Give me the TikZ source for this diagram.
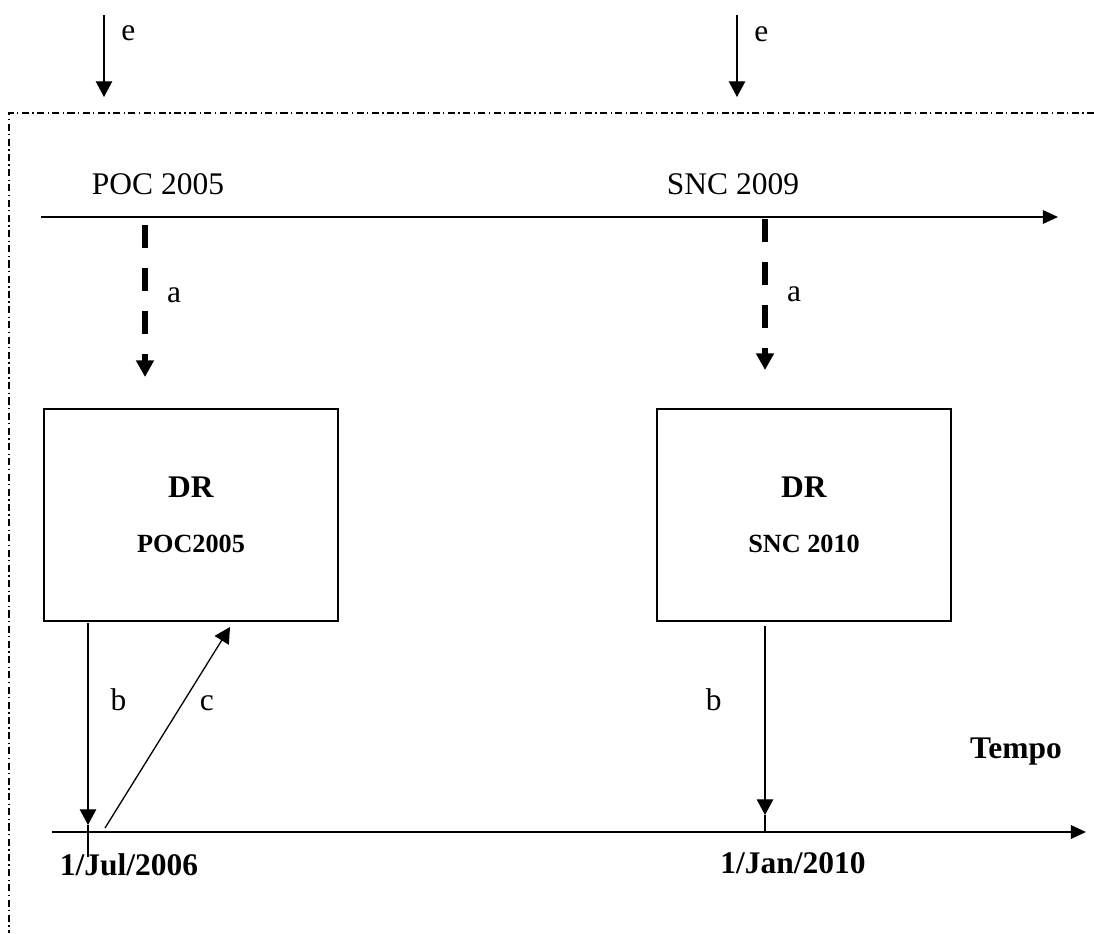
\documentclass[tikz,border=0pt]{standalone}
\usepackage{fontspec}
\setmainfont{Liberation Serif}
\usetikzlibrary{positioning,arrows.meta}
\tikzset{DR node/.style={draw,line width=0.7pt,minimum width=3.94cm,minimum height=2.84cm,align=center,inner sep=0pt},
	T arrow/.style={-{Triangle[length=6pt,width=6.3pt]},line width=0.5pt},
	A arrow/.style={-{Triangle[length=6.3pt,width=6.5pt]},line width=2.2pt,dash pattern=on 8.8pt off 7.6pt},
	T axis/.style={-{Triangle[length=5.8pt,width=5.2pt]},line width=0.6pt},
	frame line/.style={line width=0.5pt,dash pattern=on 2.7pt off 1.3pt on 0.5pt off 1.3pt},}

\begin{document}
\begin{tikzpicture}[x=0.0134cm,y=-0.0134cm,font=\fontsize{12}{14}\selectfont]
			\useasboundingbox (0,0) rectangle (1094,933);

			% frame
			\draw[frame line] (1094,113) -- (9,113) -- (9,933);

			% entradas
			\coordinate (e1s) at (104,15);
			\coordinate (e1t) at (104,97);
			\coordinate (e2s) at (737,15);
			\coordinate (e2t) at (737,97);
			\draw[T arrow] (e1s) -- node[pos=0.22, right=3pt] {e} (e1t);
			\draw[T arrow] (e2s) -- node[pos=0.24, right=3pt] {e} (e2t);

			% normas
			\coordinate (n0) at (41,217);
			\coordinate (n1) at (1058,217);
			\draw[T axis] (n0) -- (n1);
			\node (poc) at (158,184) {POC 2005};
			\node (snc) at (733,184) {SNC 2009};

			\node[DR node] (dr1) at (191,515) {\textbf{DR}\\[7pt]{\fontsize{10}{12}\selectfont\textbf{POC2005}}};
			\node[DR node] (dr2) at (804,515) {\textbf{DR}\\[7pt]{\fontsize{10}{12}\selectfont\textbf{SNC 2010}}};

			\coordinate (a1s) at (145,225);
			\coordinate (a1t) at (145,377);
			\coordinate (a2s) at (765,219);
			\coordinate (a2t) at (765,370);
			\draw[A arrow] (a1s) -- node[pos=0.46, right=4pt] {a} (a1t);
			\draw[A arrow] (a2s) -- node[pos=0.5, right=4pt] {a} (a2t);

			% tempo
			\coordinate (t0) at (52,832);
			\coordinate (t1) at (1086,832);
			\draw[T axis] (t0) -- (t1);
			\node (tempo) at (1016,752) {\textbf{Tempo}};

			\coordinate (b1) at (88,825);
			\coordinate (b2) at (765,815);
			\coordinate (c0) at (105,828);
			\coordinate (c1) at (230,627);
			\draw[T arrow] (88,623) -- node[pos=0.38, right=5pt] {b} (b1);
			\draw[line width=0.6pt] (b1) -- (88,857);
			\draw[T arrow] (c0) -- node[pos=0.62, right=3pt] {c} (c1);
			\draw[T arrow] (765,626) -- node[pos=0.39, left=13pt] {b} (b2);
			\draw[line width=0.6pt] (b2) -- (765,832);

			\node (d1) at (129,865) {\textbf{1/Jul/2006}};
			\node (d2) at (793,863) {\textbf{1/Jan/2010}};
\end{tikzpicture}
\end{document}
